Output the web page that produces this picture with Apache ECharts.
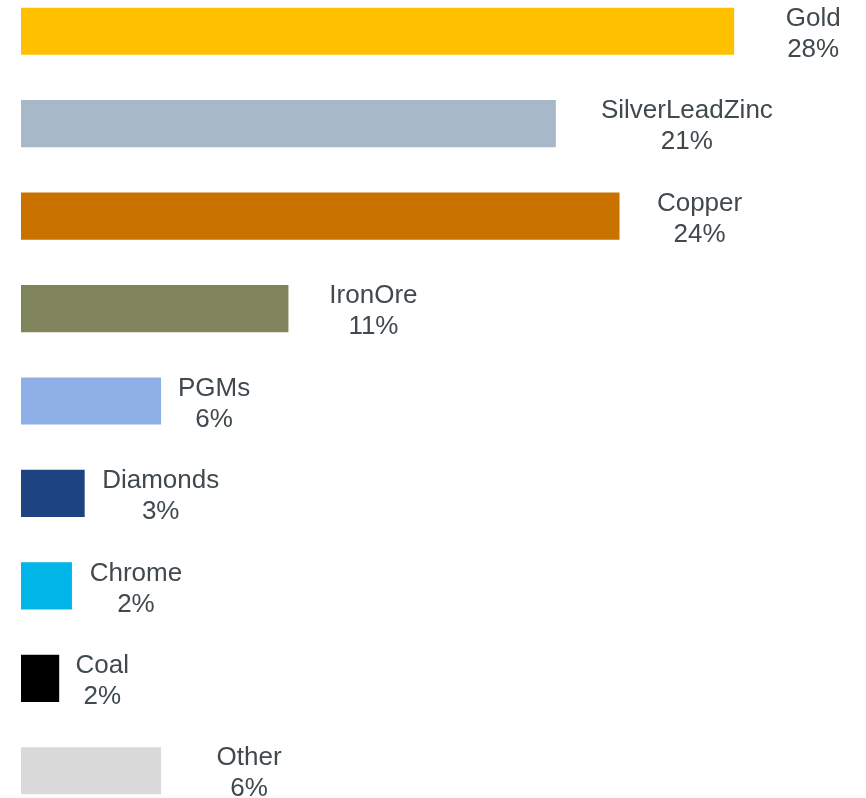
<!DOCTYPE html>
<html>
<head>
<meta charset="utf-8">
<script src="https://cdn.jsdelivr.net/npm/echarts@6/dist/echarts.min.js"></script>
<style>
  html, body { margin: 0; padding: 0; background: #ffffff; overflow: hidden; }
  /* the plot area runs a little past the top and bottom of the page */
  #chart { width: 866px; height: 832px; margin-top: -15px; }
</style>
</head>
<body>
<div id="chart"></div>
<script>
// Commodity mix (share of total, %)
var categories = ['Gold', 'SilverLeadZinc', 'Copper', 'IronOre', 'PGMs', 'Diamonds', 'Chrome', 'Coal', 'Other'];
var shares = [28, 21, 23.5, 10.5, 5.5, 2.5, 2.0, 1.5, 5.5];

// Bar fills, one per commodity
var barColors = ['#FFC000', '#A7B9C9', '#C97200', '#7F845B', '#8EB0E6', '#1D4381', '#00B5E8', '#000000', '#D9D9D9'];
// Distance (px) from each bar's end to the centre of its label
var labelGaps = [79, 131, 80, 85, 53, 76, 64, 43, 88];

var chart = echarts.init(document.getElementById('chart'), null, { renderer: 'canvas' });

var seriesData = shares.map(function (v, i) {
  return {
    value: v,
    name: categories[i],
    itemStyle: { color: barColors[i] },
    label: { distance: labelGaps[i] }
  };
});

chart.setOption({
  animation: false,
  backgroundColor: '#ffffff',
  grid: { left: 21, right: 4.5, top: 0, bottom: 0, containLabel: false },
  xAxis: {
    type: 'value',
    min: 0,
    max: 33,
    show: false
  },
  yAxis: {
    type: 'category',
    data: categories,
    inverse: true,
    show: false
  },
  series: [{
    type: 'bar',
    data: seriesData,
    barCategoryGap: '49%',
    label: {
      show: true,
      position: 'right',
      align: 'center',
      verticalAlign: 'middle',
      offset: [0, 3],
      color: '#40494E',
      fontFamily: '"Liberation Sans", Arial, sans-serif',
      fontSize: 26,
      lineHeight: 31,
      formatter: function (p) {
        return p.name + '\n' + Math.round(p.value) + '%';
      }
    }
  }]
});
</script>
</body>
</html>
